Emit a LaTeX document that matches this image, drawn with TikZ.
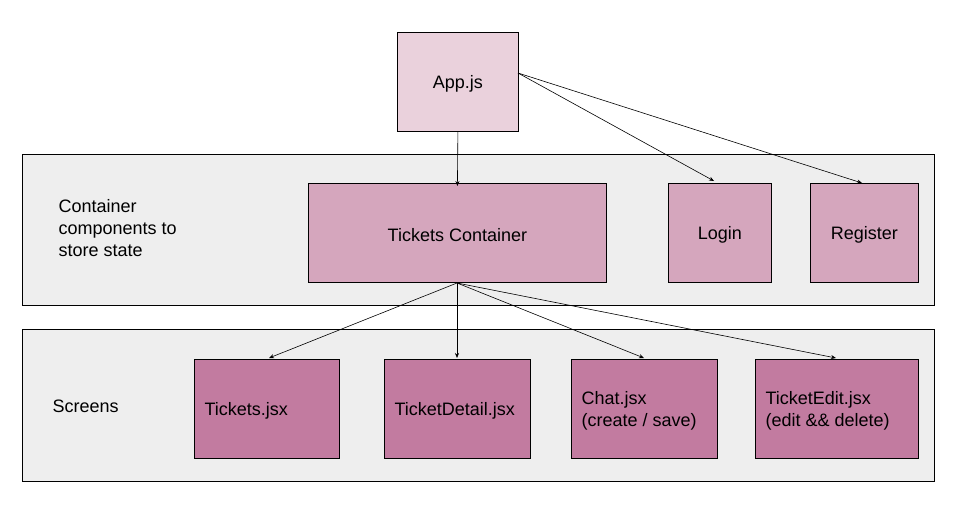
\documentclass[tikz,border=0pt]{standalone}
\usepackage{fontspec}
\setmainfont{Liberation Sans}
\usetikzlibrary{arrows.meta}
\definecolor{appc}{HTML}{EAD1DC}
\definecolor{contc}{HTML}{D5A6BD}
\definecolor{scrc}{HTML}{C27BA0}
\definecolor{bandc}{HTML}{EEEEEE}
\begin{document}
\begin{tikzpicture}[x=1pt,y=-1pt,
  every node/.style={font=\fontsize{18}{22}\selectfont},
  band/.style={draw=black,fill=bandc,line width=0.8pt},
  box/.style={draw=black,line width=0.8pt,inner sep=0pt,anchor=north west},
  arr/.style={-{Stealth[length=5pt,width=4pt]},line width=0.6pt}]
\useasboundingbox (0,0) rectangle (964,512);
\draw[band] (22,154) rectangle (934,305);
\draw[band] (22,329) rectangle (934,481);
\node[box,fill=appc,minimum width=121pt,minimum height=99pt] (app) at (397,32) {};
\node at ([yshift=-2pt]app.center) {App.js};
\node[box,fill=contc,minimum width=298pt,minimum height=99pt] (tc) at (308,183) {};
\node at ([yshift=-2pt]tc.center) {Tickets Container};
\node[box,fill=contc,minimum width=103pt,minimum height=99pt] (login) at (668,183) {};
\node at ([yshift=-2pt]login.center) {Login};
\node[box,fill=contc,minimum width=108pt,minimum height=99pt] (reg) at (810,183) {};
\node at ([yshift=-2pt]reg.center) {Register};
\node[box,fill=scrc,minimum width=145pt,minimum height=99pt] (tj) at (194,359) {};
\node[anchor=west] at ([xshift=7pt,yshift=-2pt]tj.west) {Tickets.jsx};
\node[box,fill=scrc,minimum width=146pt,minimum height=99pt] (td) at (384,359) {};
\node[anchor=west] at ([xshift=7pt,yshift=-2pt]td.west) {TicketDetail.jsx};
\node[box,fill=scrc,minimum width=146pt,minimum height=99pt] (ch) at (571,359) {};
\node[anchor=west,align=left] at ([xshift=7pt,yshift=-2pt]ch.west) {Chat.jsx\\(create / save)};
\node[box,fill=scrc,minimum width=163pt,minimum height=99pt] (te) at (755,359) {};
\node[anchor=west,align=left] at ([xshift=7pt,yshift=-2pt]te.west) {TicketEdit.jsx\\(edit \&\& delete)};
\node[anchor=west,align=left] (lab1) at (55,228) {Container\\components to\\store state};
\node[anchor=west] (lab2) at (49,406) {Screens};
\coordinate (appr) at (518,73);
\draw[arr] (app.south) -- ([yshift=-3pt]tc.north);
\draw[arr] (appr) -- (714,181);
\draw[arr] (appr) -- (862,183);
\coordinate (tcb) at (457,283);
\draw[arr] (tcb) -- (269,358);
\draw[arr] (tcb) -- (457,358);
\draw[arr] (tcb) -- (644,358);
\draw[arr] (tcb) -- (836,358);
\end{tikzpicture}
\end{document}
